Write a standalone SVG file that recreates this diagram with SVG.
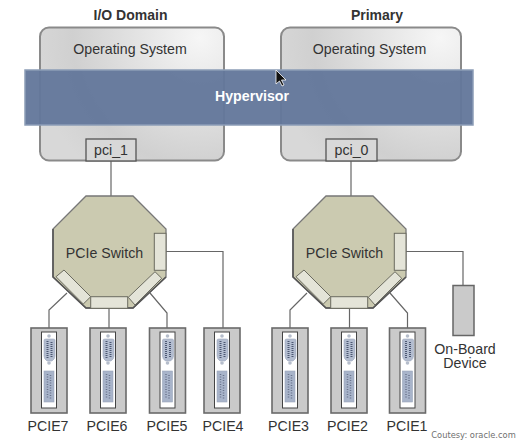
<svg xmlns="http://www.w3.org/2000/svg" xmlns:xlink="http://www.w3.org/1999/xlink" width="521" height="446" viewBox="0 0 521 446">
<style>
text{font-family:"Liberation Sans",Arial,sans-serif;font-size:14.200px;fill:#333;text-anchor:middle}
.h{font-weight:bold;font-size:14px}
.os{fill:url(#osg);stroke:#8a8a8a;stroke-width:2}
.pci{fill:#d8d8d8;stroke:#555;stroke-width:1.3}
.oct{fill:#cbcab0;stroke:#777;stroke-width:1.3}
.slot{fill:#e4e4d8;stroke:#6b6b60;stroke-width:1}
.c{fill:none;stroke:#666;stroke-width:1.2}
.card{fill:#cacaca;stroke:#6a6a6a;stroke-width:1.6}
</style>
<defs>
<radialGradient id="osg" gradientUnits="userSpaceOnUse" cx="200" cy="38" r="170">
<stop offset="0" stop-color="#f6f6f6"/><stop offset="0.75" stop-color="#d0d0d0"/><stop offset="1" stop-color="#d8d8d8"/>
</radialGradient>
<radialGradient id="osg2" gradientUnits="userSpaceOnUse" cx="440" cy="38" r="170">
<stop offset="0" stop-color="#f6f6f6"/><stop offset="0.75" stop-color="#d0d0d0"/><stop offset="1" stop-color="#d8d8d8"/>
</radialGradient>
<g id="cardart">
<rect class="card" x="0" y="0" width="36" height="85"/>
<rect x="10.500" y="4" width="15" height="76" fill="#fff" stroke="#444" stroke-width="1"/>
<circle cx="18" cy="8" r="1.800" fill="#b5bdcb"/>
<path d="M13 12Q13 11 15 11H22Q24 11 24 12V28Q24 31 21 33H16Q13 31 13 28Z" fill="#b3bdd0" stroke="#a0aabd" stroke-width="0.600"/>
<line x1="16.500" y1="13" x2="16.500" y2="31" stroke="#4d5873" stroke-width="2" stroke-dasharray="1 1"/>
<line x1="20.500" y1="14" x2="20.500" y2="30" stroke="#4d5873" stroke-width="2" stroke-dasharray="1 1"/>
<circle cx="18" cy="35" r="1.800" fill="#b5bdcb"/>
<rect x="13" y="43" width="10" height="31" fill="#a8b4ca" stroke="#9aa5ba" stroke-width="0.600"/>
<line x1="16.500" y1="46" x2="16.500" y2="70" stroke="#69738c" stroke-width="1.500" stroke-dasharray="1 1.500"/>
<line x1="19.500" y1="47" x2="19.500" y2="71" stroke="#69738c" stroke-width="1.500" stroke-dasharray="1 1.500"/>
</g>
<g id="octart">
<polygon class="oct" points="33,0 80,0 113,33 113,81 80,112 33,112 0,81 0,33"/>
<polyline points="0,33 0,81 33,112 80,112 113,81" fill="none" stroke="#555" stroke-width="1.600"/>
<rect class="slot" x="101.300" y="37.300" width="11.700" height="37"/>
<rect class="slot" x="37.700" y="100.700" width="37" height="11.600"/>
<polygon class="slot" points="11,74 37.700,100.700 30.300,108 3,80.700"/>
<polygon class="slot" points="102,75.700 108.700,82.300 82,109 75.300,101.300"/>
<text x="51.500" y="62">PCIe Switch</text>
</g>
</defs>

<g id="connectors">
<path class="c" d="M111 161V196"/>
<path class="c" d="M351 161V196"/>
<path class="c" d="M67 293L49 310V328"/>
<path class="c" d="M109 308V328"/>
<path class="c" d="M150 293L167 313V328"/>
<path class="c" d="M166 251.500H223V328"/>
<path class="c" d="M307 293L290 310V328"/>
<path class="c" d="M349.500 308V328"/>
<path class="c" d="M390 293L407.500 313V328"/>
<path class="c" d="M406 251.500H463V285"/>
</g>

<g id="io-domain"><text class="h" x="130.500" y="20">I/O Domain</text>
<rect class="os" x="40" y="27.500" width="184" height="133" rx="9"/>
<text x="130" y="54">Operating System</text></g>
<g id="primary"><text class="h" x="377" y="20">Primary</text>
<rect class="os" style="fill:url(#osg2)" x="281" y="27.500" width="180" height="133" rx="9"/>
<text x="369.500" y="54">Operating System</text></g>
<g id="hypervisor"><rect x="25" y="70" width="448" height="55" fill="#64789b" fill-opacity="0.96" stroke="#8c9db7" stroke-width="1.500"/>
<text x="252" y="101" style="fill:#fff;font-weight:bold">Hypervisor</text></g>
<g id="pci_1"><rect class="pci" x="86" y="139" width="50" height="22"/><text x="111" y="155">pci_1</text></g>
<g id="pci_0"><rect class="pci" x="326" y="139" width="51" height="22"/><text x="351.500" y="155">pci_0</text></g>

<g id="switch-1"><use xlink:href="#octart" href="#octart" x="53" y="196"/></g>
<g id="switch-2"><use xlink:href="#octart" href="#octart" x="293" y="196"/></g>

<g id="pcie7"><use href="#cardart" x="31" y="328"/><text x="48" y="431">PCIE7</text></g>
<g id="pcie6"><use href="#cardart" x="90" y="328"/><text x="107" y="431">PCIE6</text></g>
<g id="pcie5"><use href="#cardart" x="149.500" y="328"/><text x="167" y="431">PCIE5</text></g>
<g id="pcie4"><use href="#cardart" x="204" y="328"/><text x="223" y="431">PCIE4</text></g>
<g id="pcie3"><use href="#cardart" x="272" y="328"/><text x="288.500" y="431">PCIE3</text></g>
<g id="pcie2"><use href="#cardart" x="331" y="328"/><text x="347.500" y="431">PCIE2</text></g>
<g id="pcie1"><use href="#cardart" x="389.500" y="328"/><text x="407" y="431">PCIE1</text></g>

<g id="onboard"><rect x="453" y="285.500" width="21" height="50" fill="#cacaca" stroke="#666" stroke-width="1.500"/>
<text><tspan x="465" y="354">On-Board</tspan><tspan x="465" y="368">Device</tspan></text></g>
<text x="473.500" y="438" style="font-family:'DejaVu Sans',sans-serif;font-size:8.300px;fill:#707070">Coutesy: oracle.com</text>
<polygon id="cursor" points="276,70 276,84 279.500,81 282,86 284,85 281.500,80 286,80" fill="#111" stroke="#fff" stroke-width="0.800"/>
</svg>
